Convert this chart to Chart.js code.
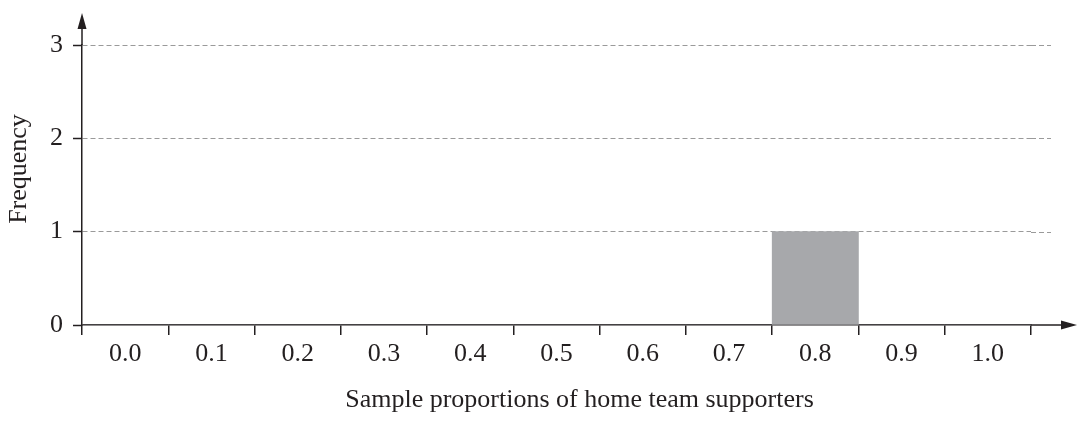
<!DOCTYPE html>
<html>
<head>
<meta charset="utf-8">
<script src="https://cdn.jsdelivr.net/npm/chart.js@4.4.1/dist/chart.umd.min.js"></script>
<style>
  html, body { margin: 0; padding: 0; background: #fff; }
  #wrap { width: 1087px; height: 421px; position: relative; }
</style>
</head>
<body>
<div id="wrap"><canvas id="chart"></canvas></div>
<script>
const categories = ['0.0', '0.1', '0.2', '0.3', '0.4', '0.5', '0.6', '0.7', '0.8', '0.9', '1.0'];
const frequencies = [0, 0, 0, 0, 0, 0, 0, 0, 1, 0, 0];
const yTicks = [0, 1, 2, 3];
const xTitle = 'Sample proportions of home team supporters';
const yTitle = 'Frequency';

const ink = '#231f20';
const gridGrey = '#9a9a9a';
const font = { family: '"Liberation Serif", "Times New Roman", serif', size: 26 };

// axis arrows, gridlines running a bit past the last bin, and axis titles
// centred on the full arrowed axes (not just the plot area)
const arrows = {
  id: 'arrows',
  afterDraw(chart) {
    const { ctx, chartArea: a, scales } = chart;
    ctx.save();
    ctx.strokeStyle = gridGrey;
    ctx.lineWidth = 1;
    ctx.setLineDash([5, 3]);
    yTicks.forEach(v => {
      if (v === 0) return;
      const y = Math.round(scales.y.getPixelForValue(v)) + 0.5;
      ctx.beginPath(); ctx.moveTo(a.right, y); ctx.lineTo(a.right + 20, y); ctx.stroke();
    });
    ctx.setLineDash([]);
    ctx.strokeStyle = ink; ctx.fillStyle = ink; ctx.lineWidth = 1.5;
    const y0 = scales.y.getPixelForValue(0);
    const xEnd = a.right + 46, yEnd = a.top - 32;
    ctx.beginPath(); ctx.moveTo(a.right, y0); ctx.lineTo(xEnd - 12, y0); ctx.stroke();
    ctx.beginPath(); ctx.moveTo(xEnd, y0); ctx.lineTo(xEnd - 16, y0 - 4.5); ctx.lineTo(xEnd - 16, y0 + 4.5); ctx.closePath(); ctx.fill();
    ctx.beginPath(); ctx.moveTo(a.left, a.top); ctx.lineTo(a.left, yEnd + 12); ctx.stroke();
    ctx.beginPath(); ctx.moveTo(a.left, yEnd); ctx.lineTo(a.left - 4.5, yEnd + 16); ctx.lineTo(a.left + 4.5, yEnd + 16); ctx.closePath(); ctx.fill();

    ctx.font = `${font.size}px ${font.family}`;
    ctx.textAlign = 'center';
    ctx.textBaseline = 'alphabetic';
    ctx.fillText(xTitle, (a.left + xEnd) / 2, 407);
    ctx.translate(26, (yEnd + y0) / 2);
    ctx.rotate(-Math.PI / 2);
    ctx.fillText(yTitle, 0, 0);
    ctx.restore();
  }
};

new Chart(document.getElementById('chart'), {
  type: 'bar',
  data: {
    labels: categories,
    datasets: [{ data: frequencies, backgroundColor: '#a7a8ab', borderWidth: 0, barPercentage: 1, categoryPercentage: 1 }]
  },
  options: {
    responsive: true, maintainAspectRatio: false, animation: false,
    layout: { padding: { top: 45, right: 56, left: 0, bottom: 0 } },
    plugins: { legend: { display: false }, tooltip: { enabled: false } },
    scales: {
      x: {
        afterFit: s => { s.height = 96; },
        grid: { offset: true, drawOnChartArea: false, tickLength: 10, color: ink, lineWidth: 1.5 },
        border: { color: ink, width: 1.5 },
        ticks: { color: ink, font, padding: 4, maxRotation: 0 }
      },
      y: {
        min: 0, max: 3,
        afterFit: s => { s.width = 82; },
        afterBuildTicks: s => { s.ticks = yTicks.map(v => ({ value: v })); },
        grid: {
          color: c => (c.tick && c.tick.value === 0 ? 'rgba(0,0,0,0)' : gridGrey),
          lineWidth: 1, tickLength: 9, tickColor: ink, tickBorderDash: [], tickWidth: 1.5
        },
        border: { color: ink, width: 1.5, dash: [5, 3] },
        ticks: { color: ink, font, padding: 10 }
      }
    }
  },
  plugins: [arrows]
});
</script>
</body>
</html>
